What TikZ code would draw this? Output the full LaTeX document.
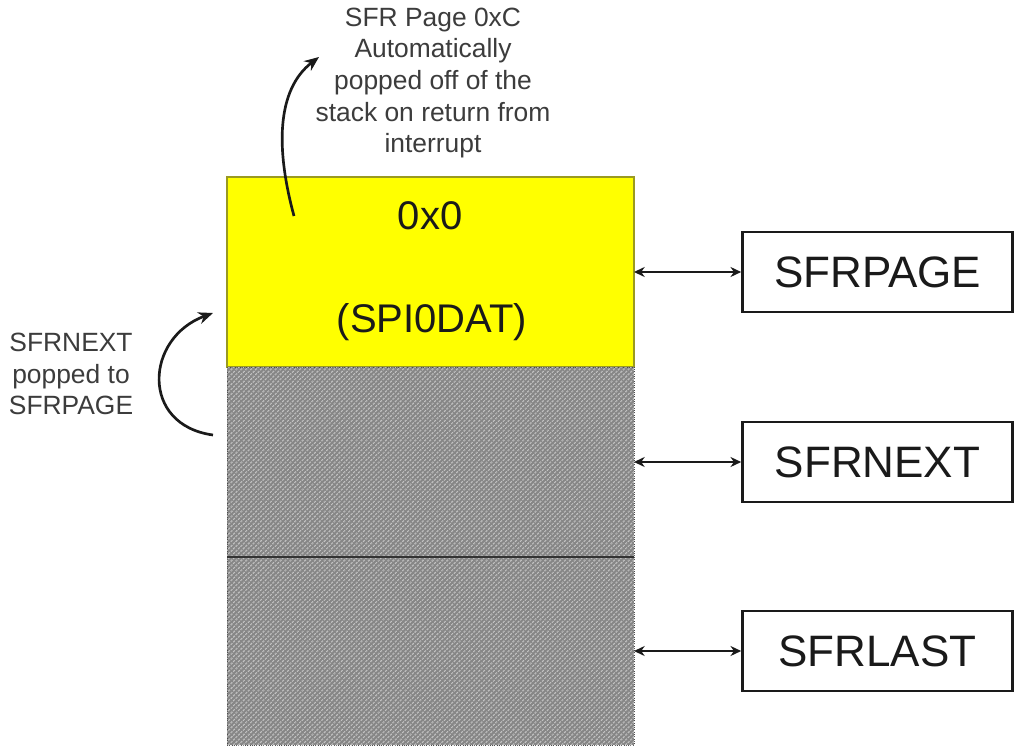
\documentclass[tikz,border=0pt]{standalone}
\usepackage{fontspec}
\setmainfont{Liberation Sans}
\usetikzlibrary{arrows.meta,patterns.meta}
\definecolor{hatchbg}{HTML}{868686}
\definecolor{hatchln}{HTML}{C4C4C4}
\definecolor{ink}{HTML}{1A1A1A}
\definecolor{yborder}{HTML}{9A9A20}
\definecolor{yfill}{HTML}{FFFF00}
\tikzset{
  seg/.style={inner sep=0pt, outer sep=0pt, minimum width=305.25pt},
  yellowseg/.style={seg, fill=yfill, draw=yborder, line width=0.8pt},
  grayseg/.style={seg, fill=hatchbg, draw=gray!60!black, densely dotted, line width=0.7pt,
    postaction={pattern={Lines[angle=45,distance=2.6pt,line width=1.0pt]}, pattern color=hatchln}},
  regbox/.style={draw=ink, line width=2pt, fill=white, minimum width=202.5pt, minimum height=60pt,
    inner sep=0pt, font=\fontsize{33}{38}\selectfont, text=ink},
  biarrow/.style={{Stealth[length=8pt,width=7.5pt]}-{Stealth[length=8pt,width=7.5pt]}, line width=1.8pt, draw=ink},
  curvearrow/.style={-{Stealth[length=11pt,width=9pt]}, line width=2pt, draw=ink},
  note/.style={align=center, font=\fontsize{19.8}{23.8}\selectfont, text=ink!85!white},
  bigtxt/.style={font=\fontsize{30}{34}\selectfont, text=ink}
}
\begin{document}
\begin{tikzpicture}[x=0.75pt,y=-0.75pt]
\useasboundingbox[fill=white] (0,0) rectangle (1016,748);
% stack
\node[yellowseg, minimum height=142.5pt] (top) at (430.5,272) {};
\node[grayseg, minimum height=142.5pt] (mid) at (430.5,462) {};
\node[grayseg, minimum height=141pt] (bot) at (430.5,651) {};
\draw[gray!40!black, line width=1.1pt] (mid.south west) -- (mid.south east);
\node[bigtxt] (val) at (430,216) {0x0};
\node[bigtxt] (reg) at (432,322) {(SPI0DAT)};
% register boxes
\node[regbox] (page) at (877.5,272) {SFRPAGE};
\node[regbox] (next) at (877.5,462) {SFRNEXT};
\node[regbox] (last) at (877.5,651) {SFRLAST};
\coordinate (pe) at (634,272);
\coordinate (ne) at (634,462);
\coordinate (le) at (634,651);
\draw[biarrow] (pe) -- (page.west);
\draw[biarrow] (ne) -- (next.west);
\draw[biarrow] (le) -- (last.west);
% notes
\node[note] (topnote) at (433,83) {SFR Page 0xC\\Automatically\\popped off of the\\stack on return from\\interrupt};
\node[note] (leftnote) at (71,374) {SFRNEXT\\popped to\\SFRPAGE};
% curved arrows
\coordinate (a1s) at (294,216);
\coordinate (a1e) at (319,57);
\draw[curvearrow] (a1s) .. controls (276,150) and (276,90) .. (a1e);
\coordinate (a2s) at (213,435);
\coordinate (a2e) at (213,313);
\draw[curvearrow] (a2s) .. controls (140,425) and (145,338) .. (a2e);
\end{tikzpicture}
\end{document}
